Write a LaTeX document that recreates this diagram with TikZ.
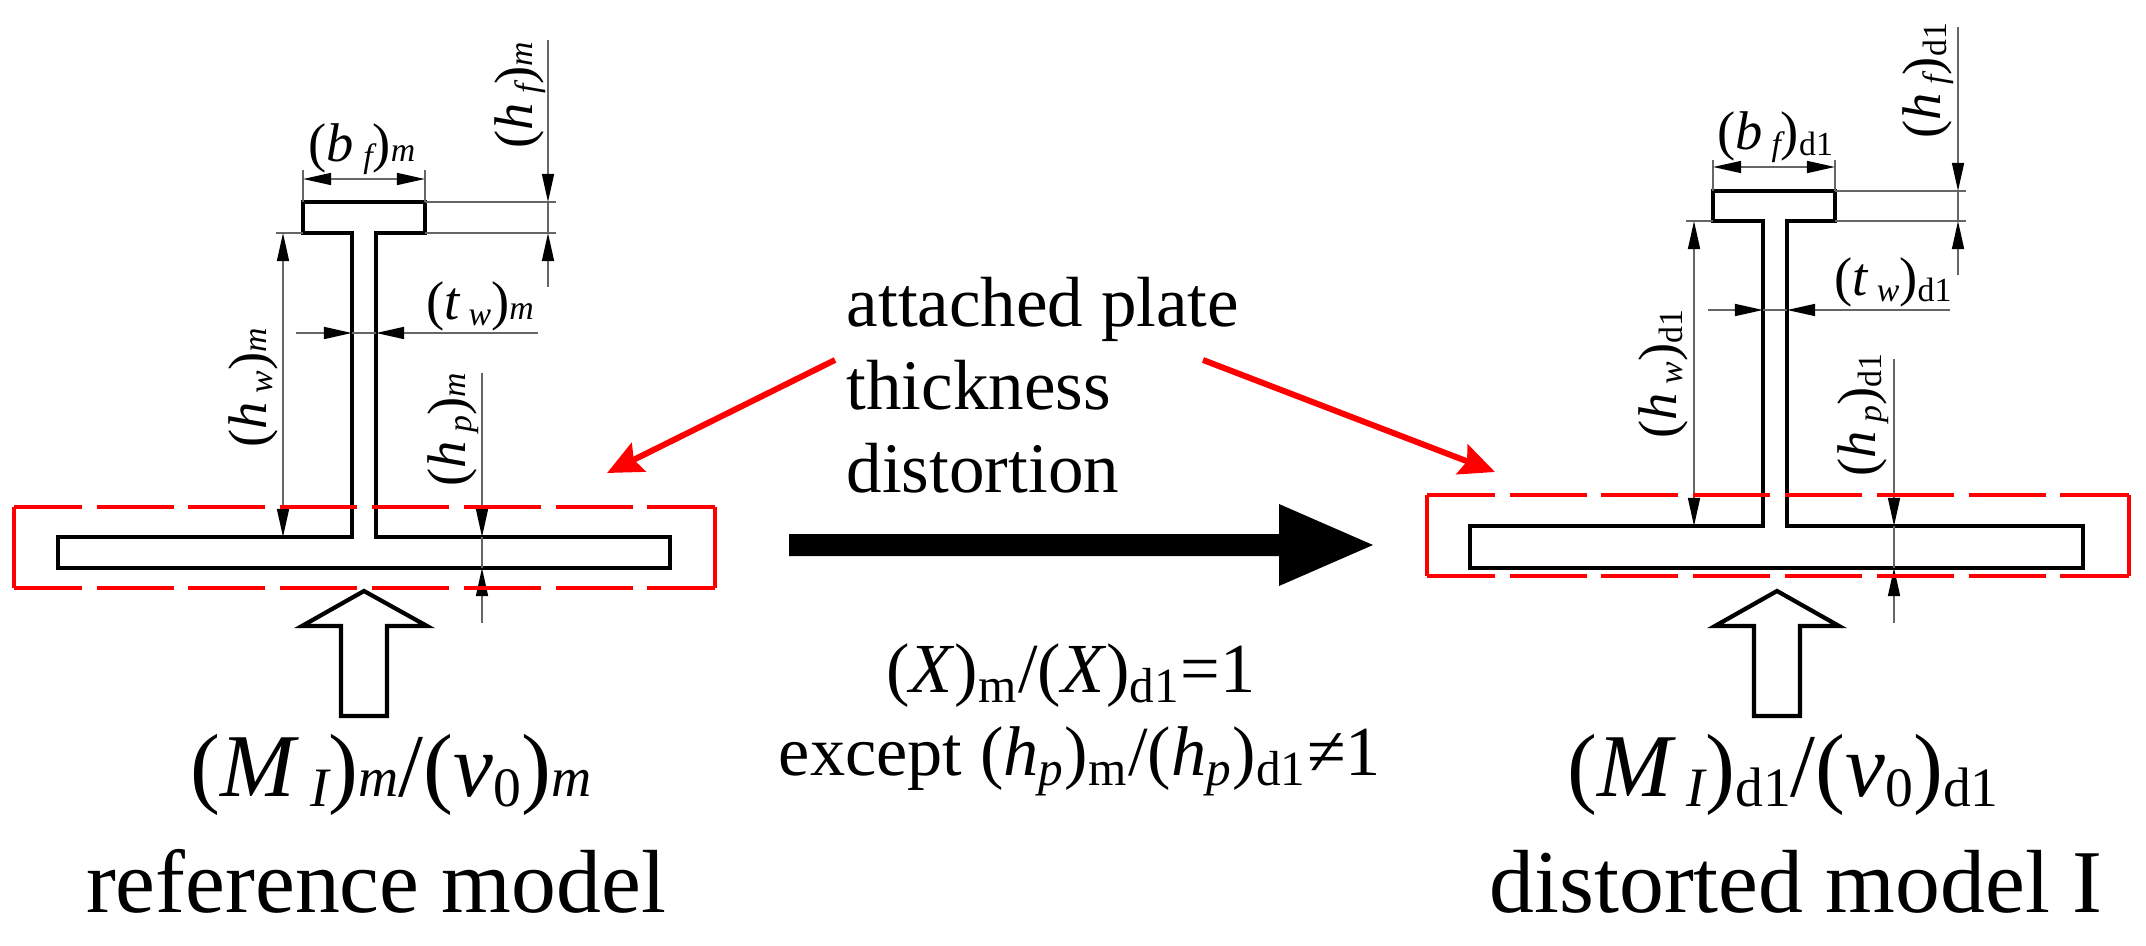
\documentclass[tikz,border=0pt]{standalone}
\usepackage{fontspec}
\setmainfont{Liberation Serif}
\usetikzlibrary{arrows.meta}
\newcommand{\lowsub}[1]{\raisebox{-0.12em}{\scalebox{0.62}{#1}}}
\newcommand{\basesub}[1]{\scalebox{0.62}{#1}}
\newcommand{\itsubm}[2]{({\itshape #1\,}\lowsub{\itshape #2})\basesub{\itshape m}}
\newcommand{\itsubd}[2]{({\itshape #1\,}\lowsub{\itshape #2})\lowsub{d1}}
\tikzset{
    section/.style={line width=1.2pt,black,line join=miter},
    dimline/.style={line width=0.5pt,black!60},
    dimtip/.style={{Triangle[length=8pt,width=3.4pt,black]}},
    dimarrow/.style={dimline,-{Triangle[length=8pt,width=3.4pt,black]}},
    dimboth/.style={dimline,{Triangle[length=8pt,width=3.4pt,black]}-{Triangle[length=8pt,width=3.4pt,black]}},
    redbox/.style={line width=1.2pt,red},
    reddash/.style={redbox,dash pattern=on 21.9pt off 4.2pt,dash phase=2.6pt},
    redarrow/.style={line width=1.7pt,red,-{Stealth[length=10pt,width=9pt,inset=1.5pt]}},
    dimlabel/.style={inner sep=0pt,font=\fontsize{15.5}{17}\selectfont},
    biglabel/.style={inner sep=0pt,anchor=base,font=\fontsize{25.5}{28}\selectfont},
    midlabel/.style={inner sep=0pt,anchor=base,font=\fontsize{20}{22}\selectfont}
}
\begin{document}
\begin{tikzpicture}[x=0.01cm,y=-0.01cm]
    \useasboundingbox (0,0) rectangle (2146,946);
    % reference model
    \draw[section] (352,537) -- (352,233) -- (303,233) -- (303,202) -- (425,202) -- (425,233) -- (376,233) -- (376,537) -- (670,537) -- (670,568) -- (58,568) -- (58,537) -- cycle;
    \draw[dimline] (303,170) -- (303,202);
    \draw[dimline] (425,170) -- (425,202);
    \draw[dimboth] (303,179) -- (425,179);
    \draw[dimline] (425,202) -- (556,202);
    \draw[dimline] (425,233) -- (556,233);
    \draw[dimline] (276,233) -- (303,233);
    \draw[dimarrow] (548,40) -- (548,202);
    \draw[dimarrow] (548,287) -- (548,233);
    \draw[dimline] (548,202) -- (548,233);
    \draw[dimboth] (283,233) -- (283,537);
    \draw[dimarrow] (296,333) -- (352,333);
    \draw[dimarrow] (538,333) -- (376,333);
    \draw[dimline] (352,333) -- (376,333);
    \draw[dimarrow] (482,373) -- (482,537);
    \draw[dimarrow] (482,623) -- (482,568);
    \draw[dimline] (482,537) -- (482,568);
    \node[dimlabel] (bfm) at (362,149) {\itsubm{b}{f}};
    \node[dimlabel,rotate=90] (hfm) at (520,95) {\itsubm{h}{f}};
    \node[dimlabel] (twm) at (480,306) {\itsubm{t}{w}};
    \node[dimlabel,rotate=90] (hwm) at (253,388) {\itsubm{h}{w}};
    \node[dimlabel,rotate=90] (hpm) at (453,430) {\itsubm{h}{p}};
    \draw[redbox] (14,507) -- (14,588);
    \draw[redbox] (715,507) -- (715,588);
    \draw[reddash] (14,507) -- (715,507);
    \draw[reddash] (14,588) -- (715,588);
    \draw[section,fill=white] (364,591) -- (427,626) -- (387,626) -- (387,716) -- (341,716) -- (341,626) -- (302,626) -- cycle;
    \node[biglabel] (loadm) at (391,796) {(\textit{M\,}\lowsub{\itshape I})\basesub{\itshape m}/(\textit{v}\lowsub{0})\basesub{\itshape m}};
    \node[biglabel] (namem) at (376,912) {reference model};
    % distorted model
    \draw[section] (1763,526) -- (1763,221) -- (1713,221) -- (1713,191) -- (1835,191) -- (1835,221) -- (1787,221) -- (1787,526) -- (2083,526) -- (2083,568) -- (1470,568) -- (1470,526) -- cycle;
    \draw[dimline] (1713,160) -- (1713,191);
    \draw[dimline] (1835,160) -- (1835,191);
    \draw[dimboth] (1713,167) -- (1835,167);
    \draw[dimline] (1835,191) -- (1966,191);
    \draw[dimline] (1835,221) -- (1966,221);
    \draw[dimline] (1686,221) -- (1713,221);
    \draw[dimarrow] (1958,27) -- (1958,191);
    \draw[dimarrow] (1958,275) -- (1958,221);
    \draw[dimline] (1958,191) -- (1958,221);
    \draw[dimboth] (1694,221) -- (1694,526);
    \draw[dimarrow] (1708,310) -- (1763,310);
    \draw[dimarrow] (1950,310) -- (1787,310);
    \draw[dimline] (1763,310) -- (1787,310);
    \draw[dimarrow] (1894,359) -- (1894,526);
    \draw[dimarrow] (1894,623) -- (1894,568);
    \draw[dimline] (1894,526) -- (1894,568);
    \node[dimlabel] (bfd) at (1775,137) {\itsubd{b}{f}};
    \node[dimlabel,rotate=90] (hfd) at (1928,81) {\itsubd{h}{f}};
    \node[dimlabel] (twd) at (1893,282) {\itsubd{t}{w}};
    \node[dimlabel,rotate=90] (hwd) at (1663,374) {\itsubd{h}{w}};
    \node[dimlabel,rotate=90] (hpd) at (1863,415) {\itsubd{h}{p}};
    \draw[redbox] (1427,495) -- (1427,576);
    \draw[redbox] (2129,495) -- (2129,576);
    \draw[reddash] (1427,495) -- (2129,495);
    \draw[reddash] (1427,576) -- (2129,576);
    \draw[section,fill=white] (1777,591) -- (1839,626) -- (1800,626) -- (1800,716) -- (1754,716) -- (1754,626) -- (1715,626) -- cycle;
    \node[biglabel] (loadd) at (1783,796) {(\textit{M\,}\lowsub{\itshape I})\lowsub{d1}/(\textit{v}\lowsub{0})\lowsub{d1}};
    \node[biglabel] (named) at (1796,912) {distorted model I};
    % middle
    \node[inner sep=0pt,anchor=north west,align=left,font=\fontsize{20.2}{23.6}\selectfont] (plate) at (846,277) {attached plate\\thickness\\distortion};
    \coordinate (platel) at (835,360);
    \coordinate (plater) at (1203,360);
    \coordinate (boxl) at (607,473);
    \coordinate (boxr) at (1495,472);
    \draw[redarrow] (platel) -- (boxl);
    \draw[redarrow] (plater) -- (boxr);
    \fill (789,534) -- (1279,534) -- (1279,504) -- (1373,545) -- (1279,586) -- (1279,556) -- (789,556) -- cycle;
    \node[midlabel] (ratio) at (1071,692) {(\textit{X})\textsubscript{m}/(\textit{X})\textsubscript{d1}=1};
    \node[midlabel] (except) at (1080,775) {except (\textit{h}\textsubscript{\itshape p})\textsubscript{m}/(\textit{h}\textsubscript{\itshape p})\textsubscript{d1}≠1};
\end{tikzpicture}
\end{document}
